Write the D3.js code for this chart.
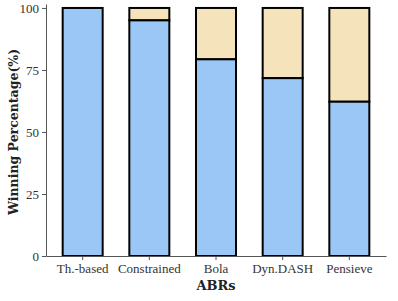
<!DOCTYPE html>
<html lang="en">
<head>
    <script src="https://d3js.org/d3.v7.min.js"></script>
    <style>
        body { margin: 0; background: white; }
    </style>
</head>
<body>
    <svg id="chart" width="398" height="301"></svg>
    <script>
        const abrs = ["Th.-based", "Constrained", "Bola", "Dyn.DASH", "Pensieve"];
        const winning = [100, 95, 79.3, 71.7, 62.2];
        const yTicks = [0, 25, 50, 75, 100];

        const svg = d3.select("svg#chart");
        const mLeft = 46, mRight = 386, mTop = 4, mBottom = 256;
        const serif = "DejaVu Serif, serif";
        const tickFont = "Liberation Serif, serif";

        const x = d3.scaleBand()
            .domain(abrs)
            .range([mLeft, mRight])
            .paddingInner(0.4)
            .paddingOuter(0.25);

        const y = d3.scaleLinear()
            .domain([0, 101.6])
            .range([mBottom, mTop]);

        const blue = "#9ac7f5";
        const beige = "#f5e4bb";

        // upper part (rest to 100)
        svg.selectAll("rect.rest")
            .data(abrs)
            .join("rect")
            .attr("class", "rest")
            .attr("x", d => x(d))
            .attr("width", x.bandwidth())
            .attr("y", y(100))
            .attr("height", (d, i) => y(winning[i]) - y(100))
            .attr("fill", beige)
            .attr("stroke", "black")
            .attr("stroke-width", 2);

        svg.selectAll("rect.win")
            .data(abrs)
            .join("rect")
            .attr("class", "win")
            .attr("x", d => x(d))
            .attr("width", x.bandwidth())
            .attr("y", (d, i) => y(winning[i]))
            .attr("height", (d, i) => y(0) - y(winning[i]))
            .attr("fill", blue)
            .attr("stroke", "black")
            .attr("stroke-width", 2);

        const yAxis = svg.append("g")
            .attr("transform", `translate(${mLeft},0)`)
            .call(d3.axisLeft(y).tickValues(yTicks).tickSize(4).tickSizeOuter(0).tickPadding(3));

        const xAxis = svg.append("g")
            .attr("transform", `translate(0,${mBottom})`)
            .call(d3.axisBottom(x).tickSize(4).tickSizeOuter(0).tickPadding(4));

        [yAxis, xAxis].forEach(g => {
            g.attr("font-family", tickFont).attr("font-size", 13);
            g.selectAll("text").attr("fill", "#333");
            g.selectAll("line").attr("stroke", "#555");
            g.select(".domain").attr("stroke", "#555");
        });

        svg.append("text")
            .attr("x", 216)
            .attr("y", 290)
            .attr("text-anchor", "middle")
            .attr("font-family", serif)
            .attr("font-weight", "bold")
            .attr("font-size", 13)
            .attr("fill", "#222")
            .text("ABRs");

        svg.append("text")
            .attr("transform", `translate(18,${(mTop + mBottom) / 2 + 2}) rotate(-90)`)
            .attr("text-anchor", "middle")
            .attr("font-family", serif)
            .attr("font-weight", "bold")
            .attr("font-size", 12.5)
            .attr("fill", "#222")
            .text("Winning Percentage(%)");
    </script>
</body>
</html>
